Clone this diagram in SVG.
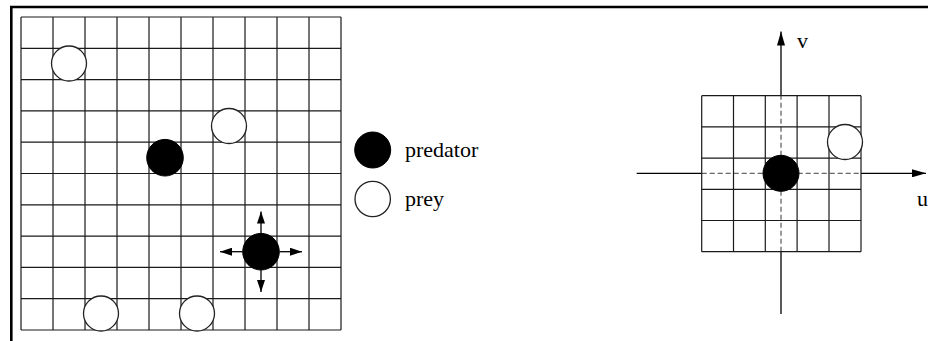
<svg xmlns="http://www.w3.org/2000/svg" width="928" height="341" viewBox="0 0 928 341">
<style>
.grid{stroke:#1a1a1a;stroke-width:1.2;fill:none}
.prey{fill:#fff;stroke:#222;stroke-width:1.3}
.pred{fill:#000;stroke:#000}
.ax{stroke:#000;stroke-width:1.3;fill:none}
.axd{stroke:#666;stroke-width:1.3;stroke-dasharray:5 3;fill:none}
text{font-family:"Liberation Serif","Times New Roman",serif;font-size:22px;fill:#000}
</style>
<defs>
<marker id="ah" viewBox="0 0 12 8" refX="12" refY="4" markerWidth="12" markerHeight="8" markerUnits="userSpaceOnUse" orient="auto">
<path d="M0,0 L12,4 L0,8 Z" fill="#000"/>
</marker>
<marker id="ahb" viewBox="0 0 14 8" refX="14" refY="4" markerWidth="14" markerHeight="8" markerUnits="userSpaceOnUse" orient="auto">
<path d="M0,0 L14,4 L0,8 Z" fill="#000"/>
</marker>
</defs>
<rect width="928" height="341" fill="#fff"/>
<g id="frame">
<path d="M11.3,341 V7 H928" fill="none" stroke="#000" stroke-width="2.6"/>
</g>
<g id="left-grid" class="grid">
<path d="M21,17 V330 M53,17 V330 M85,17 V330 M117,17 V330 M149,17 V330 M181,17 V330 M213,17 V330 M245,17 V330 M277,17 V330 M309,17 V330 M341,17 V330"/>
<path d="M21,17 H341 M21,48.3 H341 M21,79.6 H341 M21,110.9 H341 M21,142.2 H341 M21,173.5 H341 M21,204.8 H341 M21,236.1 H341 M21,267.4 H341 M21,298.7 H341 M21,330 H341"/>
</g>
<g id="prey1"><circle class="prey" cx="69" cy="63.5" r="17.5"/></g>
<g id="prey2"><circle class="prey" cx="229" cy="126" r="17.5"/></g>
<g id="prey3"><circle class="prey" cx="101" cy="313.5" r="17.5"/></g>
<g id="prey4"><circle class="prey" cx="197" cy="313.5" r="17.5"/></g>
<g id="predator1"><circle class="pred" cx="165" cy="157.7" r="18.3"/></g>
<g id="predator2"><circle class="pred" cx="261" cy="251.7" r="18.3"/></g>
<g id="connectors">
<line class="ax" x1="261" y1="233" x2="261" y2="211.5" marker-end="url(#ah)"/>
<line class="ax" x1="261" y1="270" x2="261" y2="292" marker-end="url(#ah)"/>
<line class="ax" x1="242.5" y1="251.7" x2="220" y2="251.7" marker-end="url(#ah)"/>
<line class="ax" x1="279.5" y1="251.7" x2="302" y2="251.7" marker-end="url(#ah)"/>
<line class="ax" x1="636.7" y1="173.3" x2="701.7" y2="173.3"/>
<line class="axd" x1="701.7" y1="173.3" x2="861" y2="173.3"/>
<line class="ax" x1="861" y1="173.3" x2="926" y2="173.3" marker-end="url(#ahb)"/>
<line class="ax" x1="781" y1="314" x2="781" y2="251.7"/>
<line class="axd" x1="781" y1="251.7" x2="781" y2="95.7"/>
<line class="ax" x1="781" y1="95.7" x2="781" y2="31.5" marker-end="url(#ahb)"/>
</g>
<g id="legend-predator"><circle class="pred" cx="372.7" cy="150" r="18"/><text x="405" y="157">predator</text></g>
<g id="legend-prey"><circle class="prey" cx="372.7" cy="199" r="17.7"/><text x="405" y="206">prey</text></g>
<g id="right-grid" class="grid">
<path d="M701.7,95.7 V251.7 M733.5,95.7 V251.7 M765.3,95.7 V251.7 M797.1,95.7 V251.7 M829,95.7 V251.7 M861,95.7 V251.7"/>
<path d="M701.7,95.7 H861 M701.7,126.9 H861 M701.7,158.1 H861 M701.7,189.3 H861 M701.7,220.5 H861 M701.7,251.7 H861"/>
</g>
<g id="right-prey"><circle class="prey" cx="845" cy="142" r="17.5"/></g>
<g id="right-predator"><circle class="pred" cx="781" cy="173.3" r="18"/></g>
<g id="axis-labels">
<text x="797" y="48.3">v</text>
<text x="917" y="206">u</text>
</g>
</svg>
